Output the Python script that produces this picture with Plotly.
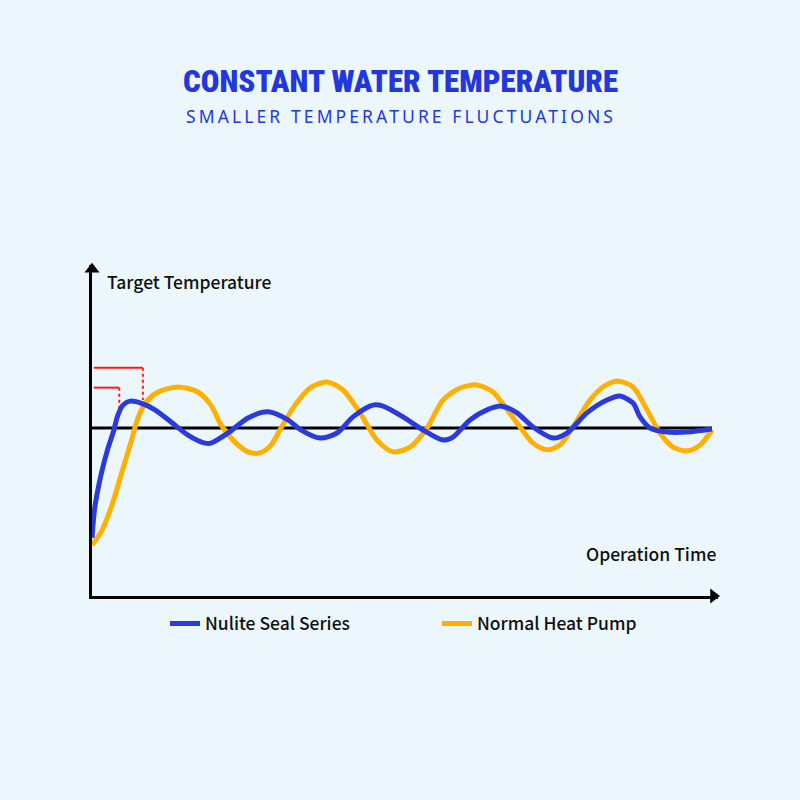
import plotly.graph_objects as go

# ---- data (time in % of run, temperature in relative units; target = 50) ----
nulite_time = [0.0, 0.44, 1.45, 2.58, 3.39, 4.19, 5.0, 6.13, 7.9, 10.16, 12.74, 15.48, 18.23,
               19.19, 21.94, 25.16, 28.39, 31.61, 33.55, 36.77, 39.52, 42.1, 45.32, 46.94,
               50.16, 53.39, 56.61, 58.23, 60.97, 63.71, 66.13, 68.55, 71.13, 74.35, 76.61,
               79.84, 83.06, 85.16, 87.26, 88.39, 90.0, 92.74, 95.97, 100.0]
nulite_temp = [17.3, 26.2, 36.0, 44.0, 48.5, 53.9, 56.8, 58.0, 57.4, 55.4, 51.8, 47.9, 45.5,
               45.5, 48.5, 53.0, 54.8, 52.4, 49.6, 47.0, 48.5, 53.3, 56.8, 56.5,
               53.3, 49.4, 46.4, 47.3, 52.4, 55.4, 56.5, 54.5, 50.3, 47.0, 48.5,
               54.5, 58.3, 59.5, 57.4, 53.3, 50.0, 48.8, 48.8, 49.7]

normal_time = [0.0, 1.45, 3.06, 4.68, 6.29, 7.42, 8.71, 10.65, 13.87, 17.1, 19.19, 20.81, 23.06,
               25.16, 27.1, 28.87, 30.48, 32.74, 35.16, 37.9, 40.48, 43.23, 45.97, 48.55,
               51.29, 54.03, 56.61, 59.35, 62.1, 64.68, 65.81, 69.03, 71.13, 73.39, 75.48,
               77.58, 80.32, 82.42, 84.68, 87.26, 89.52, 91.61, 93.71, 95.97, 98.06, 100.0]
normal_temp = [15.2, 19.0, 26.2, 36.0, 45.8, 53.0, 57.7, 60.7, 62.2, 60.7, 56.8, 50.9, 45.8,
               42.9, 42.6, 44.9, 50.0, 56.8, 61.9, 63.7, 61.3, 54.5, 46.4, 42.9,
               44.3, 50.0, 58.3, 61.9, 62.8, 60.7, 58.3, 50.3, 45.5, 43.5, 44.9,
               50.3, 58.3, 62.2, 64.0, 62.2, 55.4, 48.5, 44.3, 43.2, 44.9, 49.4]

target_time = [0.0, 100.0]
target_temp = [50.0, 50.0]

# overshoot markers (red brackets)
overshoot_normal_x = [0.3, 8.2, 8.2]
overshoot_normal_y = [67.9, 67.9, 58.3]
overshoot_nulite_x = [0.3, 4.4, 4.4]
overshoot_nulite_y = [62.0, 62.0, 55.4]

series_names = ["Nulite Seal Series", "Normal Heat Pump"]
title_text = "CONSTANT WATER TEMPERATURE"
subtitle_text = "SMALLER TEMPERATURE FLUCTUATIONS"
y_label = "Target Temperature"
x_label = "Operation Time"

X_MAX = 100.97
Y_MAX = 98.5

BLUE = "#2B3BDB"
ORANGE = "#FFB000"
RED = "#FF1A1A"
BG = "#EBF7FC"
TXT = "#111111"
TITLE_BLUE = "#2437DD"
LABEL_FONT = dict(family="Noto Sans CJK SC, Noto Sans, sans-serif", size=17.5, color=TXT, weight=500)

fig = go.Figure()

fig.add_trace(go.Scatter(x=target_time, y=target_temp, mode="lines",
                         line=dict(color="black", width=3), showlegend=False, hoverinfo="skip"))

fig.add_trace(go.Scatter(x=overshoot_normal_x[:2], y=overshoot_normal_y[:2], mode="lines",
                         line=dict(color=RED, width=2), showlegend=False))
fig.add_trace(go.Scatter(x=overshoot_normal_x[1:], y=overshoot_normal_y[1:], mode="lines",
                         line=dict(color=RED, width=2, dash="dot"), showlegend=False))
fig.add_trace(go.Scatter(x=overshoot_nulite_x[:2], y=overshoot_nulite_y[:2], mode="lines",
                         line=dict(color=RED, width=2), showlegend=False))
fig.add_trace(go.Scatter(x=overshoot_nulite_x[1:], y=overshoot_nulite_y[1:], mode="lines",
                         line=dict(color=RED, width=2, dash="dot"), showlegend=False))

fig.add_trace(go.Scatter(x=normal_time, y=normal_temp, mode="lines", name=series_names[1],
                         line=dict(color=ORANGE, width=5, shape="spline", smoothing=0.8),
                         legend="legend2"))
fig.add_trace(go.Scatter(x=nulite_time, y=nulite_temp, mode="lines", name=series_names[0],
                         line=dict(color=BLUE, width=5, shape="spline", smoothing=0.8),
                         legend="legend"))

# axis arrowheads
fig.add_trace(go.Scatter(x=[0], y=[97.2], mode="markers", cliponaxis=False,
                         marker=dict(symbol="triangle-up", size=13, color="black"),
                         showlegend=False, hoverinfo="skip"))
fig.add_trace(go.Scatter(x=[100.24], y=[0], mode="markers", cliponaxis=False,
                         marker=dict(symbol="triangle-right", size=13, color="black"),
                         showlegend=False, hoverinfo="skip"))

fig.update_xaxes(range=[0, X_MAX], showgrid=False, zeroline=False, showticklabels=False,
                 ticks="", showline=True, linecolor="black", linewidth=3)
fig.update_yaxes(range=[0, Y_MAX], showgrid=False, zeroline=False, showticklabels=False,
                 ticks="", showline=True, linecolor="black", linewidth=3)

annotations = [
    dict(x=0.4936, y=1.553, xref="paper", yref="paper", text=title_text, showarrow=False,
         xanchor="center", yanchor="middle",
         font=dict(family="Roboto Condensed, DejaVu Sans Condensed, sans-serif", size=31,
                   color=TITLE_BLUE, weight=900)),
    dict(x=0.4936, y=1.450, xref="paper", yref="paper",
         text=f'<span style="letter-spacing:3.1px">{subtitle_text}</span>', showarrow=False,
         xanchor="center", yanchor="middle",
         font=dict(family="Noto Sans, sans-serif", size=17.5, color=TITLE_BLUE)),
    dict(x=2.1, y=93.5, xref="x", yref="y", text=y_label, showarrow=False,
         xanchor="left", yanchor="middle", font=LABEL_FONT),
    dict(x=X_MAX, y=12.5, xref="x", yref="y", text=x_label, showarrow=False,
         xanchor="right", yanchor="middle", font=LABEL_FONT),
]

fig.update_layout(
    width=800, height=800,
    margin=dict(l=92, r=82, t=265, b=204, pad=0),
    paper_bgcolor=BG, plot_bgcolor=BG,
    annotations=annotations,
    showlegend=True,
    legend=dict(orientation="h", x=(165 - 92) / 626, y=-0.029, xanchor="left", yanchor="top",
                font=LABEL_FONT, bgcolor="rgba(0,0,0,0)", itemwidth=30),
    legend2=dict(orientation="h", x=(437 - 92) / 626, y=-0.029, xanchor="left", yanchor="top",
                 font=LABEL_FONT, bgcolor="rgba(0,0,0,0)", itemwidth=30),
    hovermode=False,
)

fig.write_html("out.html", config={"displayModeBar": False},
               post_script="document.body.style.margin='0';")
